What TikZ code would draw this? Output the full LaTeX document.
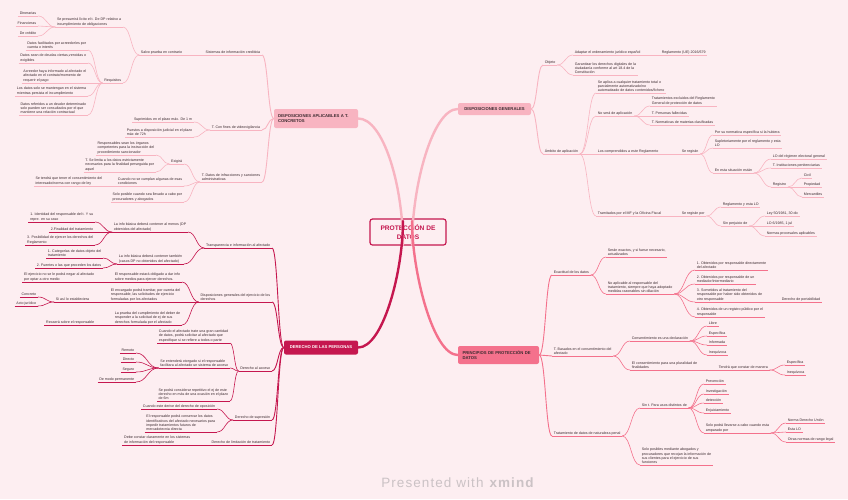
\documentclass[tikz,border=0pt]{standalone}
\usepackage{fontspec}
\setmainfont{Liberation Sans}
\usetikzlibrary{calc}
\definecolor{bg}{HTML}{FDEEF1}
\definecolor{c1}{HTML}{F8B4C1}
\definecolor{c3}{HTML}{C5174F}
\definecolor{c4}{HTML}{F4718C}
\definecolor{txt}{HTML}{3B2A2F}
\definecolor{wm}{HTML}{CBC2C5}
\colorlet{bc}{c1}
\newcommand\mmL[4]{\node[leaf,anchor=south east] (#1) at (#2,#3) {#4};}
\newcommand\mmR[4]{\node[leaf,anchor=south west] (#1) at (#2,#3) {#4};}
\tikzset{
 leaf/.style={font=\fontsize{3.6}{4.4}\selectfont, text=txt, align=left, inner xsep=1.6pt, inner ysep=0.9pt,
   append after command={(\tikzlastnode.south west) edge[draw=bc,line width=0.6pt] (\tikzlastnode.south east)}},
 conn/.style={draw=bc, line width=0.6pt, to path={let \p1=(\tikztostart), \p2=(\tikztotarget) in .. controls ({(\x1+\x2)/2},\y1) and ({(\x1+\x2)/2},\y2) .. (\tikztotarget) \tikztonodes}},
 conn1/.style={conn, line width=0.9pt},
 box/.style={rounded corners=2pt, inner sep=0pt, font=\bfseries\fontsize{4.2}{5.2}\selectfont},
 trunk/.style={line width=2.4pt, line cap=round},
}
\begin{document}
\begin{tikzpicture}[x=1pt,y=-1pt]
\fill[bg] (0,0) rectangle (848,499);
\useasboundingbox (0,0) rectangle (848,499);

% ---------- central topic and first level boxes
\node[draw=c3, line width=1.2pt, fill=bg, rounded corners=2.5pt, minimum width=76pt, minimum height=26pt, inner sep=0pt, align=center, text=c3, font=\bfseries\fontsize{6.6}{8.4}\selectfont] (C) at (408,232) {PROTECCIÓN DE\\DATOS};
\node[box, fill=c1, text=txt, minimum width=84pt, minimum height=19pt, align=left, text width=76pt] (A0) at (316,118.5) {DISPOSICIONES APLICABLES A T.\\CONCRETOS};
\node[box, fill=c1, text=txt, minimum width=73pt, minimum height=12pt] (G0) at (494.5,109) {DISPOSICIONES GENERALES};
\node[box, fill=c3, text=white, minimum width=74pt, minimum height=14pt] (D0) at (321,347.5) {DERECHO DE LAS PERSONAS};
\node[box, fill=c4, text=txt, minimum width=81pt, minimum height=18pt, align=left, text width=72pt] (P0) at (498.5,355) {PRINCIPIOS DE PROTECCIÓN DE\\DATOS};

% ---------- main trunks (drawn across the central topic)
\coordinate (ctA) at (403,245);
\coordinate (ctG) at (412,245);
\coordinate (ctD) at (403,221);
\coordinate (ctP) at (412,221);
\draw[trunk, c1] (A0.east) .. controls +(25,0) and +(0,-60) .. (ctA);
\draw[trunk, c1] (G0.west) .. controls +(-25,0) and +(0,-60) .. (ctG);
\draw[trunk, c3] (D0.east) .. controls +(25,0) and +(0,50) .. (ctD);
\draw[trunk, c4] (P0.west) .. controls +(-25,0) and +(0,50) .. (ctP);

% ---------- top left branch
\begin{scope}
\colorlet{bc}{c1}
\mmL{a1}{262}{55}{Sistemas de información crediticia}
\mmL{a11}{184}{55}{Salvo prueba en contrario}
\mmL{a111}{123}{27}{Se presumirá lícito el t. De DP relativo a\\incumplimiento de obligaciones}
\mmL{a112}{123}{83}{Requisitos}
\mmL{a1111}{38}{16}{Dinerarias}
\mmL{a1112}{38}{26}{Financieras}
\mmL{a1113}{38}{36}{De crédito}
\mmL{a1121}{88}{50}{Datos facilitados por acreedor/es por\\cuenta o interés}
\mmL{a1122}{88}{63}{Datos sean de deudas ciertas,vencidas o\\exigibles}
\mmL{a1123}{88}{83}{Acreedor haya informado al afectado el\\afectado en el contrato/momento de\\requerir el pago}
\mmL{a1124}{88}{96}{Los datos solo se mantengan en el sistema\\mientras persista el incumplimiento}
\mmL{a1125}{88}{115}{Datos referidos a un deudor determinado\\solo pueden ser consultados por el que\\mantiene una relación contractual}
\mmL{a2}{262}{130}{T. Con fines de videovigilancia}
\mmL{a21}{194}{122}{Suprimidos en el plazo máx. De 1 m}
\mmL{a22}{194}{137}{Puestos a disposición judicial en el plazo\\máx de 72h}
\mmL{a3}{262}{182}{T. Datos de infracciones y sanciones\\administrativas}
\mmL{a31}{184}{164}{Exigirá}
\mmL{a311}{156}{155}{Responsables sean los órganos\\competentes para la instrucción del\\procedimiento sancionador}
\mmL{a312}{156}{172}{T. Se limita a los datos estrictamente\\necesarios para la finalidad perseguida por\\aquel}
\mmL{a32}{184}{186}{Cuando no se cumplan algunas de esas\\condiciones}
\mmL{a321}{104}{186}{Se tendrá que tener el consentimiento del\\interesado/norma con rango de ley}
\mmL{a33}{184}{202}{Solo posible cuando sea llevado a cabo por\\procuradores y abogados}
\foreach \k in {a1,a2,a3} \draw[conn1] (A0.west) to (\k.south east);
\draw[conn] (a1.south west) to (a11.south east);
\foreach \k in {a111,a112} \draw[conn] (a11.south west) to (\k.south east);
\foreach \k in {a1111,a1112,a1113} \draw[conn] (a111.south west) to (\k.south east);
\foreach \k in {a1121,a1122,a1123,a1124,a1125} \draw[conn] (a112.south west) to (\k.south east);
\foreach \k in {a21,a22} \draw[conn] (a2.south west) to (\k.south east);
\foreach \k in {a31,a32,a33} \draw[conn] (a3.south west) to (\k.south east);
\foreach \k in {a311,a312} \draw[conn] (a31.south west) to (\k.south east);
\draw[conn] (a32.south west) to (a321.south east);
\end{scope}

% ---------- bottom left branch
\begin{scope}
\colorlet{bc}{c3}
\mmL{d1}{272}{248}{Transparencia e información al afectado}
\mmL{d11}{188}{232}{La info básica deberá contener al menos (DP\\obtenidos del afectado)}
\mmL{d111}{95}{222}{1. Identidad del responsable del t. Y su\\repre. en su caso}
\mmL{d112}{95}{232}{2.Finalidad del tratamiento}
\mmL{d113}{95}{245}{3. Posibilidad de ejercer los derechos del\\Reglamento}
\mmL{d12}{184}{264}{La info básica deberá contener también\\(casos DP no obtenidos del afectado)}
\mmL{d121}{103}{258}{1. Categorías de datos objeto del\\tratamiento}
\mmL{d122}{103}{268}{2. Fuentes o las que proceden los datos}
\mmL{d2}{272}{302}{Disposiciones generales del ejercicio de los\\derechos}
\mmL{d21}{182}{282}{El responsable estará obligado a dar info\\sobre medios para ejercer derechos.}
\mmL{d211}{96}{282}{El ejercicio no se le podrá negar al afectado\\por optar a otro medio}
\mmL{d22}{182}{302}{El encargado podrá tramitar, por cuenta del\\responsable, las solicitudes de ejercicio\\formuladas por los afectados}
\mmL{d221}{91}{302}{Si así lo estableciera}
\mmL{d2211}{38}{297}{Concreto}
\mmL{d2212}{38}{306}{Acto jurídico}
\mmL{d23}{182}{325}{La prueba del cumplimiento del deber de\\responder a la solicitud de ej de sus\\derechos formulada por el afectado}
\mmL{d231}{96}{325}{Recaerá sobre el responsable}
\mmL{d3}{272}{371}{Derecho al acceso}
\mmL{d31}{230}{343}{Cuando el afectado trate una gran cantidad\\de datos, podrá solicitar al afectado que\\especifique si se refiere a todos o parte}
\mmL{d32}{230}{368}{Se entenderá otorgado si el responsable\\facilitara al afectado un sistema de acceso}
\mmL{d321}{136}{353}{Remoto}
\mmL{d322}{136}{362}{Directo}
\mmL{d323}{136}{372}{Seguro}
\mmL{d324}{136}{382}{De modo permanente}
\mmL{d33}{230}{401}{Se podrá considerar repetitivo el ej de este\\derecho en más de una ocasión en el plazo\\de 6m}
\mmL{d4}{272}{420}{Derecho de supresión}
\mmL{d41}{217}{409}{Cuando este derive del derecho de oposición}
\mmL{d42}{217}{432}{El responsable podrá conservar los datos\\identificativos del afectado necesarios para\\impedir tratamientos futuros de\\mercadotecnia directa}
\mmL{d5}{272}{445}{Derecho de limitación de tratamiento}
\mmL{d51}{192}{445}{Debe constar claramente en los sistemas\\de información del responsable}
\foreach \k in {d1,d2,d3,d4,d5} \draw[conn1] (D0.west) to (\k.south east);
\foreach \k in {d11,d12} \draw[conn] (d1.south west) to (\k.south east);
\foreach \k in {d111,d112,d113} \draw[conn] (d11.south west) to (\k.south east);
\foreach \k in {d121,d122} \draw[conn] (d12.south west) to (\k.south east);
\foreach \k in {d21,d22,d23} \draw[conn] (d2.south west) to (\k.south east);
\draw[conn] (d21.south west) to (d211.south east);
\draw[conn] (d22.south west) to (d221.south east);
\foreach \k in {d2211,d2212} \draw[conn] (d221.south west) to (\k.south east);
\draw[conn] (d23.south west) to (d231.south east);
\foreach \k in {d31,d32,d33} \draw[conn] (d3.south west) to (\k.south east);
\foreach \k in {d321,d322,d323,d324} \draw[conn] (d32.south west) to (\k.south east);
\foreach \k in {d41,d42} \draw[conn] (d4.south west) to (\k.south east);
\draw[conn] (d5.south west) to (d51.south east);
\end{scope}

% ---------- top right branch
\begin{scope}
\colorlet{bc}{c1}
\mmR{g1}{543}{65}{Objeto}
\mmR{g11}{573}{55}{Adaptar el ordenamiento jurídico español}
\mmR{g111}{660}{55}{Reglamento (UE) 2016/679}
\mmR{g12}{573}{75}{Garantizar los derechos digitales de la\\ciudadanía conforme al art 18.4 de la\\Constitución}
\mmR{g2}{543}{154}{Ámbito de aplicación}
\mmR{g21}{596}{93}{Se aplica a cualquier tratamiento total o\\parcialmente automatizado/no\\automatizado de datos contenidos/fichero}
\mmR{g22}{596}{116}{No será de aplicación}
\mmR{g221}{650}{106}{Tratamientos excluidos del Reglamento\\General de protección de datos}
\mmR{g222}{650}{116}{T. Personas fallecidas}
\mmR{g223}{650}{125}{T. Normativas de materias clasificadas}
\mmR{g23}{596}{154}{Los comprendidos a este Reglamento}
\mmR{g231}{680}{154}{Se regirán}
\mmR{g2311}{713}{135}{Por su normativa específica si la hubiera}
\mmR{g2312}{713}{148}{Supletoriamente por el reglamento y esta\\LO}
\mmR{g2313}{713}{173}{En esta situación están}
\mmR{g23131}{771}{159}{LO del régimen electoral general}
\mmR{g23132}{771}{168}{T. Instituciones penitenciarias}
\mmR{g23133}{771}{187}{Registro}
\mmR{g231331}{802}{178}{Civil}
\mmR{g231332}{802}{187}{Propiedad}
\mmR{g231333}{802}{197}{Mercantiles}
\mmR{g24}{596}{216}{Tramitados por el MF y la Oficina Fiscal}
\mmR{g241}{680}{216}{Se regirán por}
\mmR{g2411}{721}{207}{Reglamento y esta LO}
\mmR{g2412}{721}{226}{Sin perjuicio de}
\mmR{g24121}{765}{216}{Ley 50/1981, 30 dic}
\mmR{g24122}{765}{226}{LO 6/1985, 1 jul}
\mmR{g24123}{765}{236}{Normas procesales aplicables}
\foreach \k in {g1,g2} \draw[conn1] (G0.east) to (\k.south west);
\foreach \k in {g11,g12} \draw[conn] (g1.south east) to (\k.south west);
\draw[conn] (g11.south east) to (g111.south west);
\foreach \k in {g21,g22,g23,g24} \draw[conn] (g2.south east) to (\k.south west);
\foreach \k in {g221,g222,g223} \draw[conn] (g22.south east) to (\k.south west);
\draw[conn] (g23.south east) to (g231.south west);
\foreach \k in {g2311,g2312,g2313} \draw[conn] (g231.south east) to (\k.south west);
\foreach \k in {g23131,g23132,g23133} \draw[conn] (g2313.south east) to (\k.south west);
\foreach \k in {g231331,g231332,g231333} \draw[conn] (g23133.south east) to (\k.south west);
\draw[conn] (g24.south east) to (g241.south west);
\foreach \k in {g2411,g2412} \draw[conn] (g241.south east) to (\k.south west);
\foreach \k in {g24121,g24122,g24123} \draw[conn] (g2412.south east) to (\k.south west);
\end{scope}

% ---------- bottom right branch
\begin{scope}
\colorlet{bc}{c4}
\mmR{p1}{552}{275}{Exactitud de los datos}
\mmR{p11}{606}{257}{Serán exactos, y si fuese necesario,\\actualizados}
\mmR{p12}{606}{294}{No aplicable al responsable del\\tratamiento, siempre que haya adoptado\\medidas razonables sin dilación}
\mmR{p121}{695}{270}{1. Obtenidos por responsable directamente\\del afectado}
\mmR{p122}{695}{284}{2. Obtenidos por responsable de un\\mediador/intermediario}
\mmR{p123}{695}{302}{3. Sometidos al tratamiento del\\responsable por haber sido obtenidos de\\otro responsable}
\mmR{p1231}{780}{302}{Derecho de portabilidad}
\mmR{p124}{695}{317}{4. Obtenidos de un registro público por el\\responsable}
\mmR{p2}{552}{356}{T. Basados en el consentimiento del\\afectado}
\mmR{p21}{630}{341}{Consentimiento es una declaración}
\mmR{p211}{707}{326}{Libre}
\mmR{p212}{707}{336}{Específica}
\mmR{p213}{707}{345}{Informada}
\mmR{p214}{707}{355}{Inequívoca}
\mmR{p22}{630}{370}{El consentimiento para una pluralidad de\\finalidades}
\mmR{p221}{717}{370}{Tendrá que constar de manera}
\mmR{p2211}{785}{365}{Específica}
\mmR{p2212}{785}{375}{Inequívoca}
\mmR{p3}{552}{436}{Tratamiento de datos de naturaleza penal}
\mmR{p31}{640}{408}{Sin t. Para usos distintos de}
\mmR{p311}{704}{384}{Prevención}
\mmR{p312}{704}{394}{Investigación}
\mmR{p313}{704}{403}{detección}
\mmR{p314}{704}{413}{Enjuiciamiento}
\mmR{p315}{704}{433}{Solo podrá llevarse a cabo cuando esta\\amparado por}
\mmR{p3151}{786}{423}{Norma Derecho Unión}
\mmR{p3152}{786}{432}{Esta LO}
\mmR{p3153}{786}{442}{Otras normas de rango legal}
\mmR{p32}{640}{465}{Solo posibles mediante abogados y\\procuradores que recojan la información de\\sus clientes para el ejercicio de sus\\funciones}
\foreach \k in {p1,p2,p3} \draw[conn1] (P0.east) to (\k.south west);
\foreach \k in {p11,p12} \draw[conn] (p1.south east) to (\k.south west);
\foreach \k in {p121,p122,p123,p124} \draw[conn] (p12.south east) to (\k.south west);
\draw[conn] (p123.south east) to (p1231.south west);
\foreach \k in {p21,p22} \draw[conn] (p2.south east) to (\k.south west);
\foreach \k in {p211,p212,p213,p214} \draw[conn] (p21.south east) to (\k.south west);
\draw[conn] (p22.south east) to (p221.south west);
\foreach \k in {p2211,p2212} \draw[conn] (p221.south east) to (\k.south west);
\foreach \k in {p31,p32} \draw[conn] (p3.south east) to (\k.south west);
\foreach \k in {p311,p312,p313,p314,p315} \draw[conn] (p31.south east) to (\k.south west);
\foreach \k in {p3151,p3152,p3153} \draw[conn] (p315.south east) to (\k.south west);
\end{scope}

% ---------- watermark
\node[text=wm, font=\fontsize{13.5}{15}\selectfont\addfontfeatures{LetterSpace=8}, inner sep=0pt] (wmk) at (458,483) {Presented with \textbf{xmind}};
\end{tikzpicture}
\end{document}
